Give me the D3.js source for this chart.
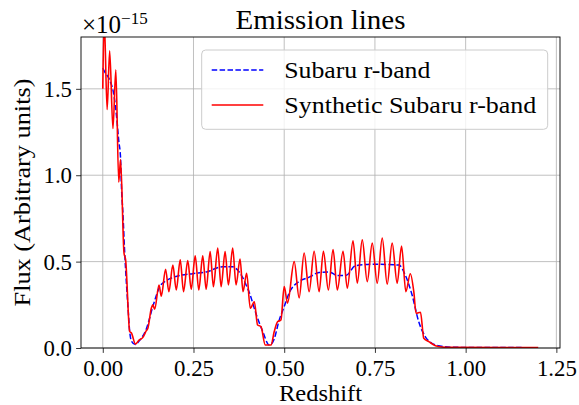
<!DOCTYPE html>
<html><head><meta charset="utf-8">
<script src="https://cdn.jsdelivr.net/npm/d3@7"></script>
<style>html,body{margin:0;padding:0;background:#fff;} text{font-family:"Liberation Serif",serif;fill:#000;}</style>
</head><body>
<svg id="c" width="579" height="405"></svg>
<script>
// Data (flux in units of 1e-15)
const fluxExponent = -15;
const zBlue = [0.000,0.005,0.019,0.031,0.038,0.044,0.049,0.051,0.056,0.060,0.065,0.070,0.074,0.079,0.090,0.100,0.120,0.138,0.157,0.175,0.195,0.247,0.285,0.330,0.357,0.376,0.385,0.395,0.404,0.422,0.440,0.459,0.472,0.486,0.500,0.514,0.541,0.569,0.596,0.624,0.646,0.670,0.697,0.752,0.816,0.834,0.852,0.871,0.889,0.907,0.934,0.960,1.200];
const fluxBlue = [1.62,1.60,1.55,1.46,1.34,1.20,1.10,0.96,0.76,0.57,0.38,0.22,0.10,0.04,0.02,0.04,0.11,0.24,0.355,0.39,0.41,0.43,0.44,0.47,0.47,0.44,0.41,0.365,0.32,0.20,0.10,0.017,0.05,0.16,0.24,0.32,0.385,0.41,0.437,0.44,0.42,0.42,0.477,0.485,0.48,0.42,0.31,0.15,0.065,0.027,0.01,0.004,0.002];
const zRed = [0.000,0.004,0.012,0.019,0.028,0.036,0.044,0.049,0.0585,0.063,0.0742,0.079,0.090,0.100,0.110,0.120,0.1245,0.1338,0.1382,0.1429,0.155,0.1613,0.1731,0.1821,0.1931,0.2025,0.2135,0.2225,0.2343,0.2437,0.2547,0.2646,0.2755,0.2849,0.2959,0.3049,0.3168,0.3261,0.3371,0.3462,0.358,0.3673,0.3783,0.3865,0.3964,0.4066,0.4176,0.4266,0.436,0.4478,0.4635,0.4725,0.4816,0.4909,0.500,0.5091,0.5275,0.5412,0.5549,0.5687,0.5824,0.5962,0.608,0.6217,0.6346,0.6464,0.6621,0.6739,0.6896,0.7014,0.7151,0.7288,0.7426,0.7563,0.7701,0.7838,0.7975,0.8113,0.8234,0.8352,0.8475,0.8571,0.8635,0.8755,0.8846,0.8984,0.9168,0.934,0.960,1.200];
const fluxRed = [1.50,1.90,1.38,1.72,1.27,1.61,0.96,1.09,0.55,0.51,0.095,0.087,0.023,0.046,0.06,0.10,0.116,0.23,0.25,0.224,0.365,0.30,0.456,0.326,0.48,0.336,0.51,0.326,0.506,0.34,0.533,0.336,0.533,0.34,0.558,0.355,0.578,0.355,0.558,0.365,0.578,0.365,0.515,0.326,0.433,0.23,0.268,0.133,0.124,0.017,0.017,0.095,0.152,0.162,0.355,0.26,0.50,0.29,0.55,0.326,0.56,0.326,0.56,0.336,0.57,0.336,0.56,0.346,0.62,0.375,0.626,0.384,0.607,0.375,0.636,0.37,0.607,0.375,0.59,0.326,0.43,0.326,0.20,0.207,0.056,0.037,0.013,0.006,0.004,0.002];
const xTicks = [0, 0.25, 0.5, 0.75, 1.0, 1.25];
const xTickLabels = ["0.00","0.25","0.50","0.75","1.00","1.25"];
const yTicks = [0, 0.5, 1.0, 1.5];
const yTickLabels = ["0.0","0.5","1.0","1.5"];
const seriesNames = ["Subaru r-band","Synthetic Subaru r-band"];
const titleText = "Emission lines";
const xLabel = "Redshift";
const yLabel = "Flux (Arbitrary units)";

const svg = d3.select("#c");
const L=81, R=560, T=37, B=348;
const fs = 22.8;
const x = d3.scaleLinear().domain([-0.06,1.26]).range([L,R]);
const y = d3.scaleLinear().domain([0,1.8]).range([B,T]);

svg.append("rect").attr("width",579).attr("height",405).attr("fill","#fff");
svg.append("defs").append("clipPath").attr("id","clip").append("rect")
  .attr("x",L).attr("y",T).attr("width",R-L).attr("height",B-T);

// grid
const g = svg.append("g");
g.selectAll(".gx").data(xTicks).join("line")
  .attr("x1",d=>x(d)).attr("x2",d=>x(d)).attr("y1",T).attr("y2",B)
  .attr("stroke","#b0b0b0").attr("stroke-width",0.8);
g.selectAll(".gy").data(yTicks).join("line")
  .attr("y1",d=>y(d)).attr("y2",d=>y(d)).attr("x1",L).attr("x2",R)
  .attr("stroke","#b0b0b0").attr("stroke-width",0.8);

// lines
const lineGen = d3.line().x(d=>x(d[0])).y(d=>y(d[1])).curve(d3.curveMonotoneX);
const plot = svg.append("g").attr("clip-path","url(#clip)");
plot.append("path").datum(zBlue.map((z,i)=>[z,fluxBlue[i]]))
  .attr("d",lineGen).attr("fill","none").attr("stroke","#0000ff")
  .attr("stroke-width",1.5).attr("stroke-dasharray","5.5,2.4");
plot.append("path").datum(zRed.map((z,i)=>[z,fluxRed[i]]))
  .attr("d",lineGen).attr("fill","none").attr("stroke","#ff0000")
  .attr("stroke-width",1.6);

// axes
const xAxis = d3.axisBottom(x).tickValues(xTicks).tickFormat((d,i)=>xTickLabels[i]).tickSize(4.9).tickPadding(5);
const yAxis = d3.axisLeft(y).tickValues(yTicks).tickFormat((d,i)=>yTickLabels[i]).tickSize(4.9).tickPadding(5);
const ax = svg.append("g").attr("transform",`translate(0,${B})`).call(xAxis);
const ay = svg.append("g").attr("transform",`translate(${L},0)`).call(yAxis);
[ax,ay].forEach(a=>{
  a.select(".domain").remove();
  a.selectAll("line").attr("stroke","#000").attr("stroke-width",0.8);
  a.selectAll("text").style("font-family",'"Liberation Serif",serif').style("font-size",fs+"px").attr("fill","#000");
});
ax.selectAll("text").attr("dy",null).attr("y",28);
ay.selectAll("text").attr("x",-9).attr("dy","0.33em");

// frame
svg.append("rect").attr("x",L).attr("y",T).attr("width",R-L).attr("height",B-T)
  .attr("fill","none").attr("stroke","#000").attr("stroke-width",0.9);

// title & labels
svg.append("text").attr("x",(L+R)/2).attr("y",29).attr("text-anchor","middle")
  .attr("textLength",170).attr("lengthAdjust","spacingAndGlyphs")
  .style("font-size",(fs*1.2)+"px").text(titleText);
svg.append("text").attr("x",(L+R)/2).attr("y",401).attr("text-anchor","middle")
  .attr("textLength",83).attr("lengthAdjust","spacingAndGlyphs")
  .style("font-size",fs+"px").text(xLabel);
svg.append("text").attr("transform",`translate(30,${(T+B)/2}) rotate(-90)`).attr("text-anchor","middle")
  .attr("textLength",228).attr("lengthAdjust","spacingAndGlyphs")
  .style("font-size",fs+"px").text(yLabel);

// offset text
const off = svg.append("text").attr("x",82).attr("y",33).style("font-size","25px");
off.append("tspan").text("\u00d710");
off.append("tspan").attr("dy",-9).style("font-size","17px").text("\u2212"+Math.abs(fluxExponent));

// legend
const lg = svg.append("g");
lg.append("rect").attr("x",201.7).attr("y",50).attr("width",346).attr("height",79.3).attr("rx",4)
  .attr("fill","#fff").attr("fill-opacity",0.8).attr("stroke","#cccccc").attr("stroke-width",1);
const legY = [70,105];
const legW = [146,252];
const legStyles = [{c:"#0000ff",d:"5.5,2.4"},{c:"#ff0000",d:null}];
seriesNames.forEach((n,i)=>{
  lg.append("line").attr("x1",211.7).attr("x2",263.3).attr("y1",legY[i]).attr("y2",legY[i])
    .attr("stroke",legStyles[i].c).attr("stroke-width",1.5).attr("stroke-dasharray",legStyles[i].d);
  lg.append("text").attr("x",284.3).attr("y",legY[i]).attr("dy","0.33em")
    .attr("textLength",legW[i]).attr("lengthAdjust","spacingAndGlyphs")
    .style("font-size",fs+"px").text(n);
});
</script>
</body></html>
